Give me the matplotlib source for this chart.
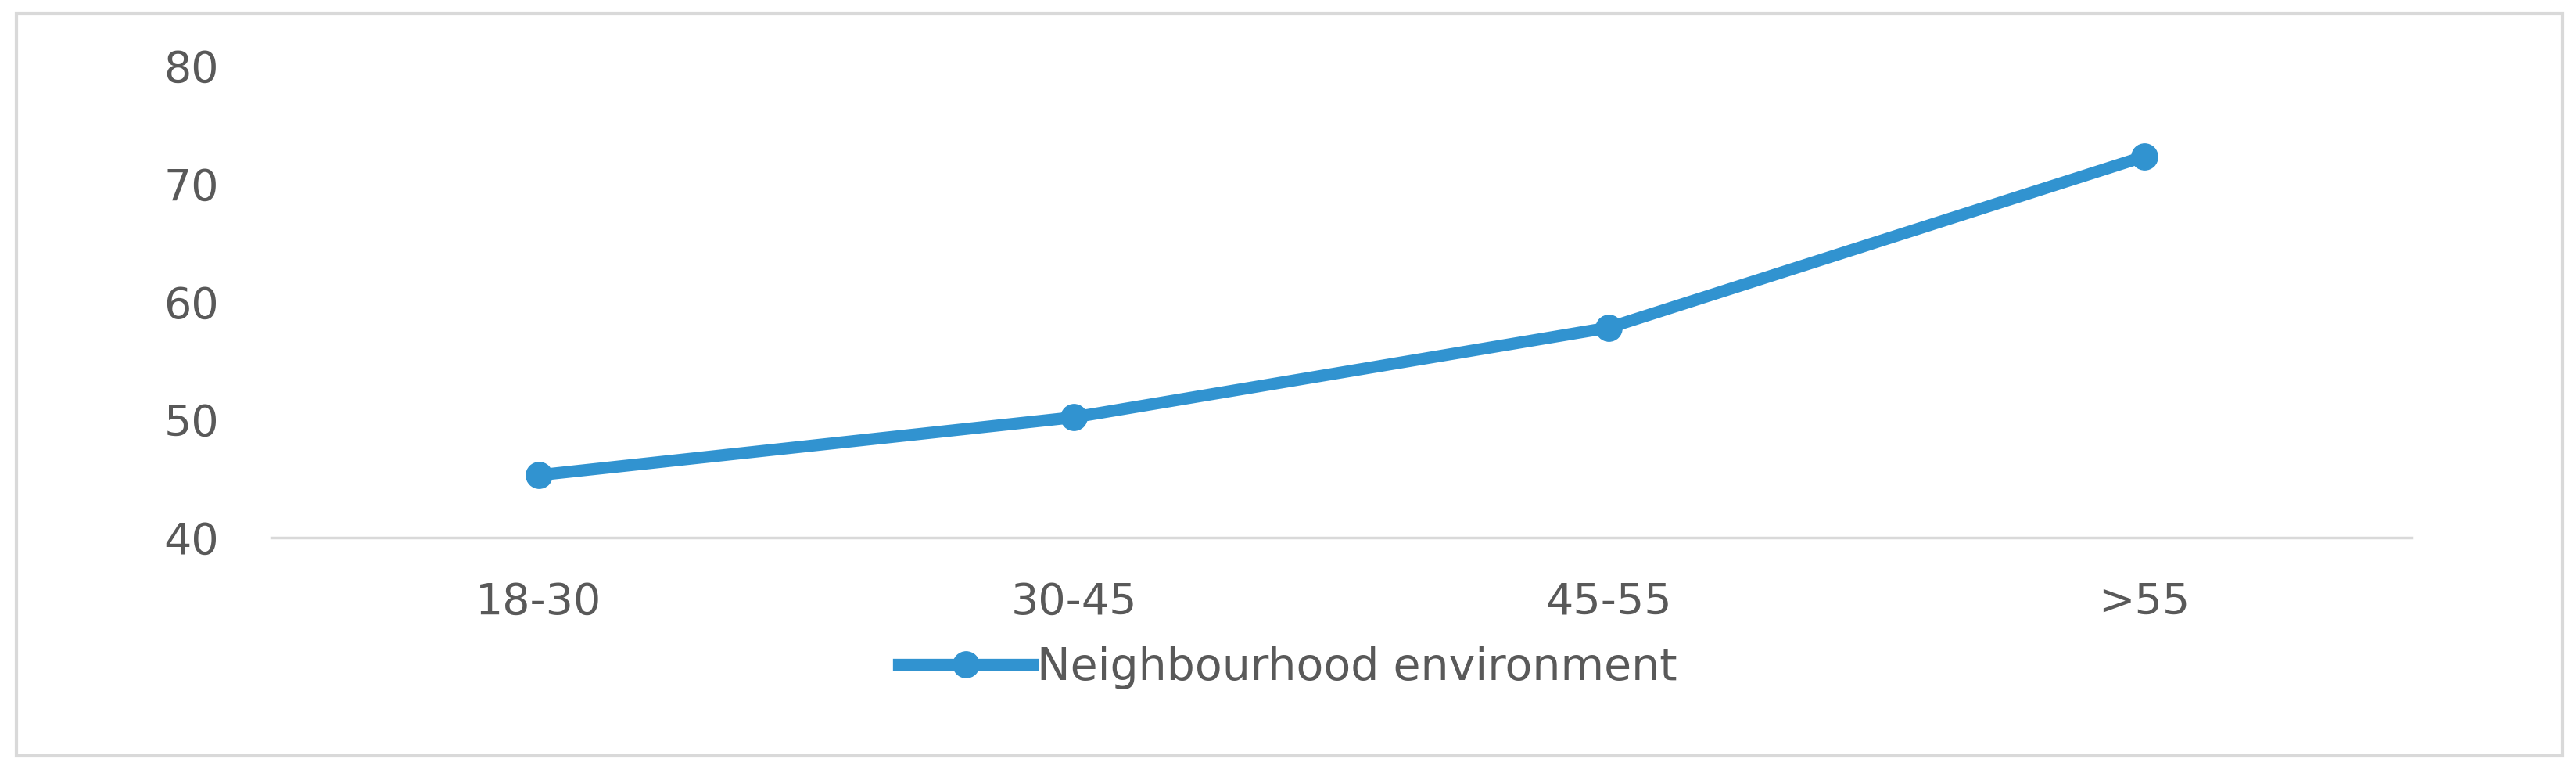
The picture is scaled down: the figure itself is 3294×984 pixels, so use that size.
import matplotlib
matplotlib.use("Agg")
from matplotlib import pyplot as plt
from matplotlib.patches import Rectangle

age_groups = ["18-30", "30-45", "45-55", ">55"]
neighbourhood = [45.3, 50.2, 57.8, 72.3]
y_ticks = [40, 50, 60, 70, 80]

blue = "#3193D0"
grey_text = "#595959"
grey_line = "#D9D9D9"

fig = plt.figure(figsize=(32.94, 9.84), dpi=100)
ax = fig.add_axes([0.1053, 0.3018, 0.8309, 0.6128])

xs = list(range(len(age_groups)))
ax.plot(xs, neighbourhood, "-o", color=blue, lw=11, ms=24,
        label="Neighbourhood environment")

ax.set_xlim(-0.5, len(age_groups) - 0.5)
ax.set_ylim(40, 80)
ax.set_yticks(y_ticks)
ax.set_xticks(xs)
ax.set_xticklabels(age_groups)

# only the bottom axis line is shown
for side in ["top", "right", "left"]:
    ax.spines[side].set_visible(False)
ax.spines["bottom"].set_color(grey_line)
ax.spines["bottom"].set_linewidth(2.5)
ax.tick_params(axis="both", length=0, labelsize=40, labelcolor=grey_text)
ax.tick_params(axis="y", pad=48)
ax.tick_params(axis="x", pad=40)

fig.legend(loc="center", bbox_to_anchor=(0.5, 0.133), frameon=False,
           fontsize=41, labelcolor=grey_text, handlelength=3.0,
           handletextpad=0.1, markerscale=1.0)

# outer chart border
fig.patches.append(Rectangle((0.0064, 0.0183), 0.9885, 0.9644,
                             transform=fig.transFigure, fill=False,
                             edgecolor=grey_line, lw=3))

fig.savefig("out.png", dpi=100)
